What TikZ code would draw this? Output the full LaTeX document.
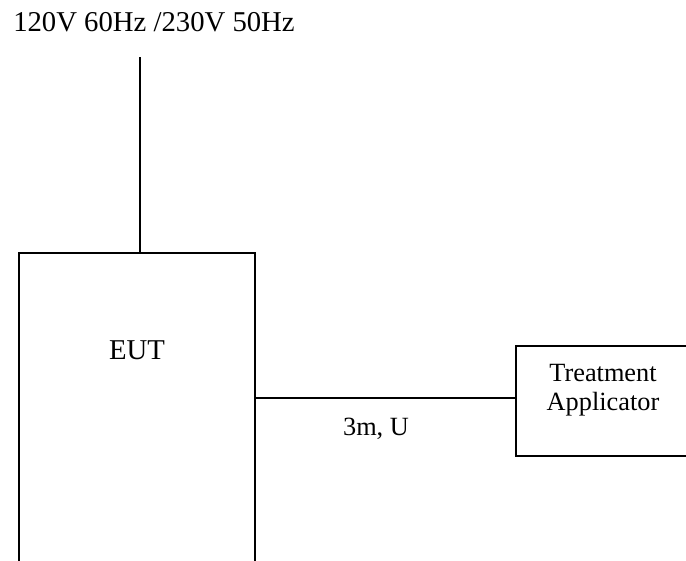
\documentclass[tikz,border=0pt]{standalone}
\usepackage{fontspec}
\setmainfont{Liberation Serif}
\usetikzlibrary{positioning, calc}

\begin{document}
\begin{tikzpicture}[
    x=0.418pt, y=-0.418pt,
    % Node styles
    unit/.style={
        rectangle,
        draw=black,
        line width=0.8pt,
        minimum width=#1,
        inner sep=0pt
    },
    wire/.style={
        line width=0.8pt,
        color=black
    },
    caption/.style={
        font=\fontsize{#1}{#1}\selectfont,
        inner sep=1pt,
        align=center
    }
]
\useasboundingbox (0, 0) rectangle (686, 560);
\clip (0, 0) rectangle (686, 560);

% ============================================
% SUPPLY
% ============================================
\node[caption=12] (mains) at (154, 22) {120V 60Hz /230V 50Hz};
\coordinate (supply) at (140, 57);

% ============================================
% EUT
% ============================================
\node[unit=98.6pt, minimum height=141pt] (eut) at (137, 421.5) {};
\node[caption=12] (euttext) at (137, 350) {EUT};

% ============================================
% TREATMENT APPLICATOR
% ============================================
\node[unit=77pt, minimum height=46pt] (applicator) at (608, 401) {};
\node[caption=11] (apptext) at (603, 390) {Treatment\\[1pt]Applicator};

% ============================================
% CABLES
% ============================================
\coordinate (plug) at ($(applicator.west)+(0, -3)$);
\draw[wire] (supply) -- (supply |- eut.north);
\draw[wire] (eut.east |- plug) -- (plug);
\node[caption=11] (cable) at (376, 429) {3m, U};

\end{tikzpicture}
\end{document}
